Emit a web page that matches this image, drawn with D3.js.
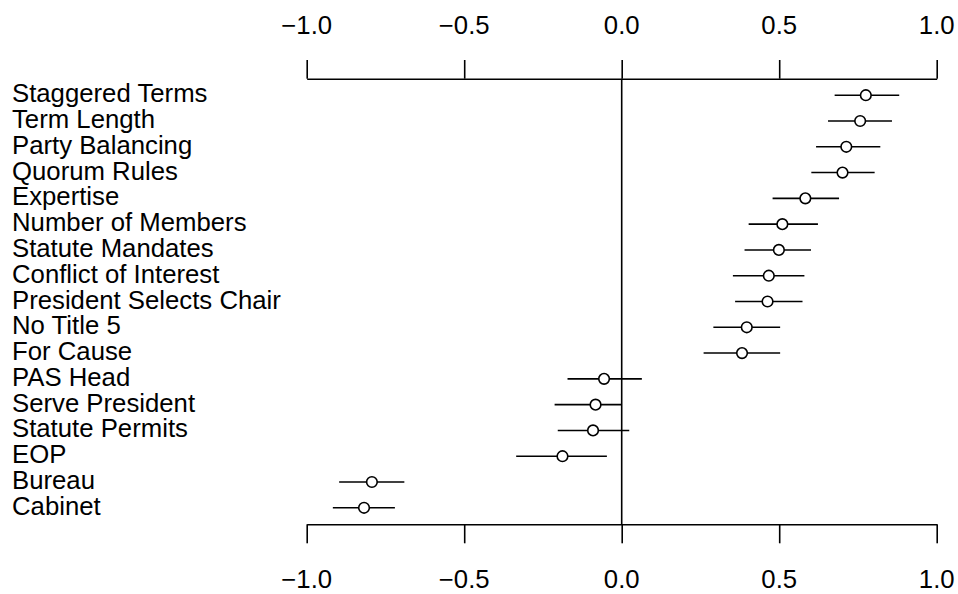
<!DOCTYPE html>
<html>
<head>
    <meta charset="utf-8">
    <title>Coefficient Plot</title>
    <script src="https://d3js.org/d3.v7.min.js"></script>
    <style>
        body { margin: 0; background: #fff; }
        svg { display: block; }
        .label, .tick-label { font-family: "Liberation Sans", Arial, Helvetica, sans-serif; font-size: 25px; fill: #000; }
    </style>
</head>
<body>
    <div id="graph"></div>
    <script>
        // row names, top to bottom
        const categories = [
            "Staggered Terms", "Term Length", "Party Balancing", "Quorum Rules",
            "Expertise", "Number of Members", "Statute Mandates", "Conflict of Interest",
            "President Selects Chair", "No Title 5", "For Cause", "PAS Head",
            "Serve President", "Statute Permits", "EOP", "Bureau", "Cabinet"
        ];
        // point estimates
        const estimates = [0.775, 0.757, 0.713, 0.701, 0.583, 0.510, 0.499, 0.467,
                           0.463, 0.397, 0.382, -0.056, -0.083, -0.091, -0.188, -0.793, -0.818];
        // interval ends
        const lower = [0.676, 0.655, 0.617, 0.602, 0.479, 0.403, 0.390, 0.353,
                       0.360, 0.291, 0.260, -0.172, -0.213, -0.203, -0.335, -0.897, -0.917];
        const upper = [0.881, 0.858, 0.821, 0.803, 0.690, 0.623, 0.601, 0.580,
                       0.574, 0.503, 0.503, 0.064, 0.001, 0.024, -0.047, -0.690, -0.720];
        // axis ticks
        const tickValues = [-1.0, -0.5, 0.0, 0.5, 1.0];

        const width = 958, height = 594;
        const plotTop = 78.7, plotBottom = 524.3;
        const lw = 1.6;
        const stretch = 1.03; // Helvetica in the original runs a little wider

        const data = categories.map((c, i) => ({ name: c, est: estimates[i], lo: lower[i], hi: upper[i], row: i + 1 }));

        const x = d3.scaleLinear().domain([-1, 1]).range([306.7, 936.7]);
        const y = d3.scaleLinear().domain([1 - 0.64, categories.length + 0.64]).range([plotTop, plotBottom]);

        const svg = d3.select("#graph").append("svg")
            .attr("width", width)
            .attr("height", height);

        // zero reference line
        svg.append("line")
            .attr("x1", x(0)).attr("x2", x(0))
            .attr("y1", plotTop).attr("y2", plotBottom)
            .attr("stroke", "#000").attr("stroke-width", lw);

        // top and bottom axes
        const axisTop = d3.axisTop(x).tickValues(tickValues).tickSize(18.7).tickSizeOuter(0).tickFormat("");
        const axisBottom = d3.axisBottom(x).tickValues(tickValues).tickSize(19).tickSizeOuter(0).tickFormat("");

        [[axisTop, plotTop], [axisBottom, plotBottom]].forEach(([ax, pos]) => {
            const g = svg.append("g")
                .attr("transform", "translate(0," + pos + ")")
                .call(ax);
            g.select(".domain").attr("stroke", "#000").attr("stroke-width", lw);
            g.selectAll(".tick line").attr("stroke", "#000").attr("stroke-width", lw);
        });

        // tick labels (R style minus sign)
        const fmt = d => d3.format(".1f")(d).replace("-", "\u2212");
        [34, 588].forEach(base => {
            svg.append("g").selectAll("text")
                .data(tickValues)
                .enter().append("text")
                .attr("class", "tick-label")
                .attr("transform", d => "translate(" + x(d) + "," + base + ") scale(" + stretch + ",1)")
                .attr("text-anchor", "middle")
                .text(fmt);
        });

        // row labels
        svg.append("g").selectAll("text")
            .data(data)
            .enter().append("text")
            .attr("class", "label")
            .attr("transform", d => "translate(12," + (y(d.row) + 7) + ") scale(" + stretch + ",1)")
            .text(d => d.name);

        // intervals
        svg.append("g").selectAll("line")
            .data(data)
            .enter().append("line")
            .attr("x1", d => x(d.lo))
            .attr("x2", d => x(d.hi))
            .attr("y1", d => y(d.row))
            .attr("y2", d => y(d.row))
            .attr("stroke", "#000")
            .attr("stroke-width", lw);

        // point estimates
        svg.append("g").selectAll("circle")
            .data(data)
            .enter().append("circle")
            .attr("cx", d => x(d.est))
            .attr("cy", d => y(d.row))
            .attr("r", 5.3)
            .attr("fill", "#fff")
            .attr("stroke", "#000")
            .attr("stroke-width", lw);
    </script>
</body>
</html>
